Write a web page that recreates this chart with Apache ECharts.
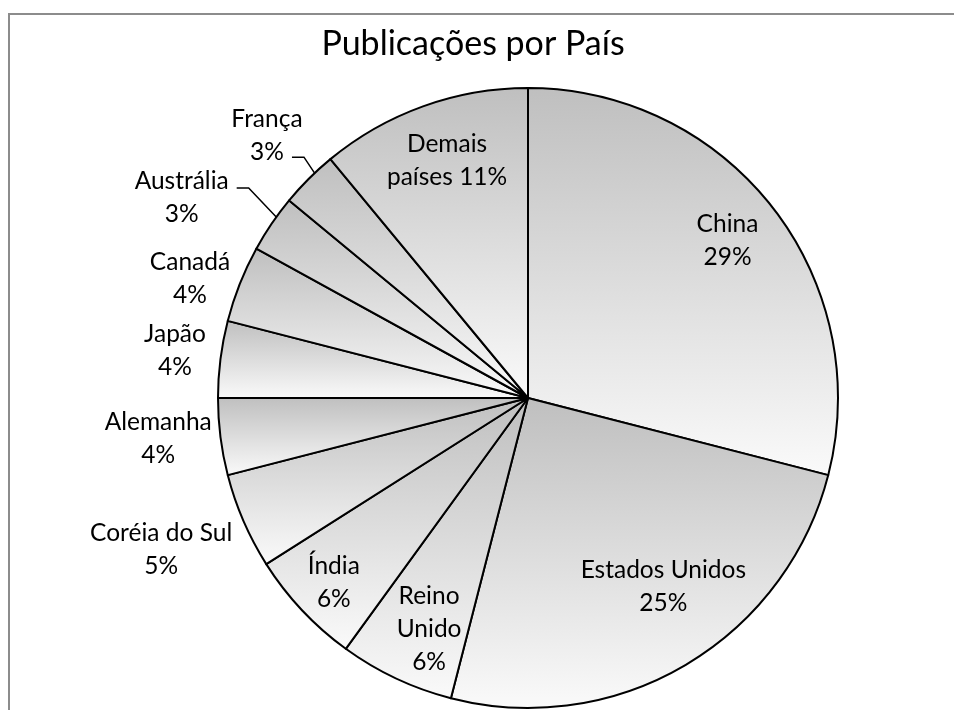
<!DOCTYPE html>
<html>
<head>
<meta charset="utf-8">
<title>Publicações por País</title>
<script src="https://cdn.jsdelivr.net/npm/echarts@6/dist/echarts.min.js"></script>
<style>
  html, body { margin: 0; padding: 0; background: #fff; }
  #chart { width: 954px; height: 710px; }
</style>
</head>
<body>
<div id="chart"></div>
<script>
// Publication share by country (percent)
const countries = ['China', 'Estados Unidos', 'Reino Unido', 'Índia', 'Coréia do Sul',
  'Alemanha', 'Japão', 'Canadá', 'Austrália', 'França', 'Demais países'];
const shares = [29, 25, 6, 6, 5, 4, 4, 4, 3, 3, 11];
// How each country's name wraps inside its label
const labelNames = ['China', 'Estados Unidos', 'Reino\nUnido', 'Índia', 'Coréia do Sul',
  'Alemanha', 'Japão', 'Canadá', 'Austrália', 'França', 'Demais'];
const labelJoin = ['\n', '\n', '\n', '\n', '\n', '\n', '\n', '\n', '\n', '\n', '\npaíses '];

// Label placement: [radius ratio, angle nudge in degrees] around the slice middle
const labelPlace = [
  [0.82, -0.5], [0.75, -5], [0.81, -2], [0.865, -0.4], [1.28, 1], [1.2, 0.9],
  [1.149, 0.5], [1.156, -2.2], [1.29, -4.2], [1.195, 0.2], [0.81, 1]
];
// Leader lines for the two thinnest slices: start offset from the label centre
const leaders = { 8: [55, -10], 9: [25, 22] };

const CX = 528, CY = 398, R = 310;

const total = shares.reduce((a, b) => a + b, 0);
const midAngles = [];
let acc = 0;
shares.forEach(v => { midAngles.push((acc + v / 2) / total * 360); acc += v; });

function polar(radius, deg) {
  const a = deg * Math.PI / 180;
  return [CX + radius * Math.sin(a), CY - radius * Math.cos(a)];
}

const fill = new echarts.graphic.LinearGradient(0, 0, 0, 1, [
  { offset: 0, color: '#bfbfbf' },
  { offset: 1, color: '#fafafa' }
]);

const chart = echarts.init(document.getElementById('chart'), null, { renderer: 'canvas' });

chart.setOption({
  backgroundColor: '#ffffff',
  animation: false,
  title: {
    text: 'Publicações por País',
    left: 468,
    textAlign: 'center',
    top: 22,
    textStyle: { fontFamily: 'Lato', fontSize: 34, fontWeight: 'normal', color: '#000' }
  },
  graphic: [{
    type: 'rect',
    shape: { x: 9, y: 14, width: 1000, height: 1000 },
    style: { fill: 'none', stroke: '#8c8c8c', lineWidth: 2 },
    silent: true
  }],
  series: [{
    type: 'pie',
    center: [CX, CY],
    radius: [0, R],
    startAngle: 90,
    clockwise: true,
    avoidLabelOverlap: false,
    itemStyle: { color: fill, borderColor: '#000', borderWidth: 2 },
    label: {
      show: true,
      position: 'outside',
      fontFamily: 'Lato',
      fontSize: 24.5,
      lineHeight: 33,
      color: '#000',
      align: 'center',
      formatter: p => labelNames[p.dataIndex] + labelJoin[p.dataIndex] + p.value + '%'
    },
    labelLine: { show: false, lineStyle: { color: '#000', width: 1.5 } },
    emphasis: { disabled: true },
    labelLayout: function (params) {
      const i = params.dataIndex;
      const [ratio, nudge] = labelPlace[i];
      const [x, y] = polar(R * ratio, midAngles[i] + nudge);
      const out = { x: x, y: y, align: 'center', verticalAlign: 'middle' };
      if (leaders[i]) {
        const s = [x + leaders[i][0], y + leaders[i][1]];
        const end = polar(R, midAngles[i] + 1.5);
        out.labelLinePoints = [s, [s[0] + 12, s[1]], end];
      }
      return out;
    },
    data: countries.map((name, i) => ({
      name: name,
      value: shares[i],
      labelLine: { show: !!leaders[i] }
    }))
  }]
});
</script>
</body>
</html>
